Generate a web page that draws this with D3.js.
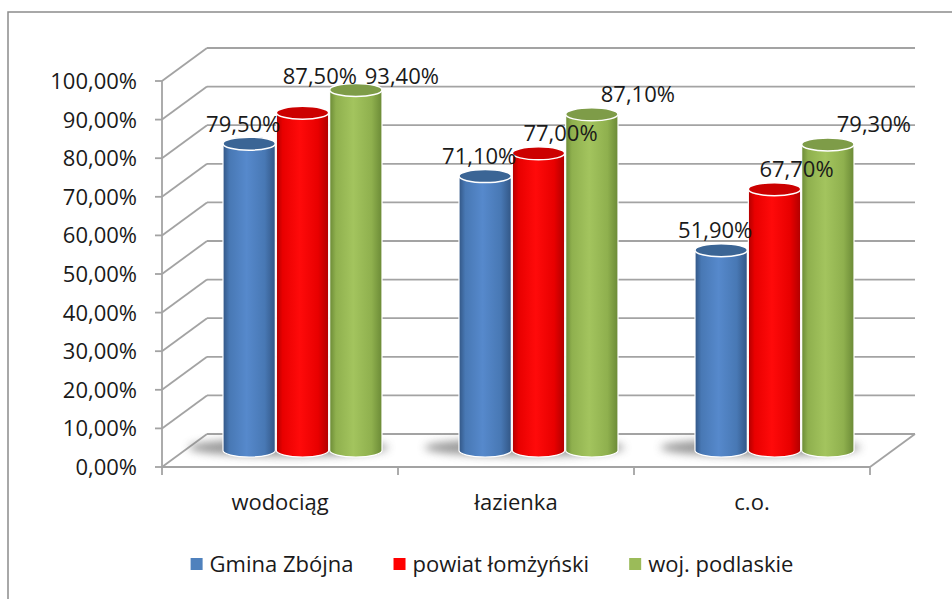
<!DOCTYPE html>
<html>
<head>
<meta charset="utf-8">
<script src="https://cdn.jsdelivr.net/npm/d3@7"></script>
<style>
  body { margin: 0; background: #fff; }
  text { font-family: "Open Sans", "Liberation Sans", sans-serif; fill: #1a1a1a; }
</style>
</head>
<body>
<script>
const categories = ["wodociąg", "łazienka", "c.o."];
const seriesNames = ["Gmina Zbójna", "powiat łomżyński", "woj. podlaskie"];
const gminaValues = [0.795, 0.711, 0.519];
const powiatValues = [0.875, 0.770, 0.677];
const wojValues = [0.934, 0.871, 0.793];
const yTicks = [0, 0.1, 0.2, 0.3, 0.4, 0.5, 0.6, 0.7, 0.8, 0.9, 1.0];

const allValues = [gminaValues, powiatValues, wojValues];

let width = 952;
let height = 599;
let svg = d3.select("body").append("svg")
            .attr("width", width)
            .attr("height", height);

// pseudo 3d: depth offset of back wall
let depthX = 45, depthY = -33;
let front = {left: 162, right: 870, bottom: 467, top: 81};
let fontSize = 22;

let pl = d3.formatLocale({decimal: ",", thousands: " ", grouping: [3], currency: ["", ""]});
let fmt = pl.format(".2%");

let x = d3.scaleBand().domain(categories).range([front.left, front.right]);
let groupW = 160;
let xs = d3.scaleBand().domain(seriesNames).range([0, groupW]);
let y = d3.scaleLinear().domain([0, 1]).range([front.bottom, front.top]);

let colors = [
  {dark: "#325685", mid: "#4878b4", light: "#5689cc", top: "#3b6595"},
  {dark: "#b00000", mid: "#e80000", light: "#ff0a0a", top: "#cc0000"},
  {dark: "#6b8a36", mid: "#8fb04e", light: "#a3c45e", top: "#7e9c48"}
];
let legendColors = ["#4f81bd", "#ff0000", "#9bbb59"];

let defs = svg.append("defs");
colors.forEach(function(c, i) {
  let g = defs.append("linearGradient").attr("id", "cyl" + i)
              .attr("x1", 0).attr("x2", 1).attr("y1", 0).attr("y2", 0);
  g.append("stop").attr("offset", 0).attr("stop-color", c.dark);
  g.append("stop").attr("offset", 0.12).attr("stop-color", c.mid);
  g.append("stop").attr("offset", 0.45).attr("stop-color", c.light);
  g.append("stop").attr("offset", 0.8).attr("stop-color", c.mid);
  g.append("stop").attr("offset", 1).attr("stop-color", c.dark);
});
defs.append("filter").attr("id", "blur")
    .attr("x", "-30%").attr("y", "-100%").attr("width", "160%").attr("height", "300%")
    .append("feGaussianBlur").attr("stdDeviation", 4);

// outer frame
svg.append("rect")
   .attr("x", 8).attr("y", 12)
   .attr("width", 980).attr("height", 620)
   .attr("fill", "none")
   .attr("stroke", "#8c8c8c")
   .attr("stroke-width", 1.5);

let lineColor = "#a3a3a3";
let grid = svg.append("g").attr("stroke", lineColor).attr("stroke-width", 1.8).attr("fill", "none");

// back wall gridlines and side wall diagonals
yTicks.forEach(function(t) {
  grid.append("line")
      .attr("x1", front.left + depthX).attr("y1", y(t) + depthY)
      .attr("x2", front.right + depthX).attr("y2", y(t) + depthY);
  grid.append("line")
      .attr("x1", front.left).attr("y1", y(t))
      .attr("x2", front.left + depthX).attr("y2", y(t) + depthY);
  grid.append("line")
      .attr("x1", front.left - 7).attr("y1", y(t))
      .attr("x2", front.left).attr("y2", y(t));
});

// floor
grid.append("line")
    .attr("x1", front.left).attr("y1", front.bottom)
    .attr("x2", front.right).attr("y2", front.bottom);
grid.append("line")
    .attr("x1", front.right).attr("y1", front.bottom)
    .attr("x2", front.right + depthX).attr("y2", front.bottom + depthY);
grid.append("line")
    .attr("x1", front.left).attr("y1", front.top)
    .attr("x2", front.left).attr("y2", front.bottom + 8);
x.domain().forEach(function(c) {
  grid.append("line")
      .attr("x1", x(c) + x.bandwidth()).attr("y1", front.bottom)
      .attr("x2", x(c) + x.bandwidth()).attr("y2", front.bottom + 8);
});

// y axis labels
svg.append("g").selectAll("text")
   .data(yTicks)
   .enter().append("text")
   .attr("x", 137)
   .attr("y", d => y(d))
   .attr("dy", "0.36em")
   .attr("text-anchor", "end")
   .attr("font-size", fontSize)
   .text(d => fmt(d));

// category labels
svg.append("g").selectAll("text")
   .data(categories)
   .enter().append("text")
   .attr("x", d => x(d) + x.bandwidth() / 2)
   .attr("y", 510)
   .attr("text-anchor", "middle")
   .attr("font-size", fontSize)
   .text(d => d);

let ry = 6.5;
let baseY = front.bottom + depthY / 2;

function groupLeft(c) {
  return x(c) + (x.bandwidth() - groupW) / 2 + depthX / 2;
}

// floor shadows
categories.forEach(function(c) {
  let gl = groupLeft(c);
  svg.append("ellipse")
     .attr("cx", gl + groupW / 2 - 14)
     .attr("cy", baseY - 3)
     .attr("rx", groupW / 2 + 20)
     .attr("ry", 9)
     .attr("fill", "#777")
     .attr("opacity", 0.75)
     .attr("filter", "url(#blur)");
});

let bars = svg.append("g");
let labels = [];
let labelShift = [-6, 22, 46];
categories.forEach(function(c, ci) {
  let gl = groupLeft(c);
  let group = [];
  seriesNames.forEach(function(s, si) {
    let v = allValues[si][ci];
    let rx = xs.bandwidth() / 2 - 0.5;
    let cx = gl + xs(s) + xs.bandwidth() / 2;
    let topY = y(v) + depthY / 2;
    let body = "M" + (cx - rx) + "," + topY +
               "L" + (cx - rx) + "," + baseY +
               "A" + rx + "," + ry + " 0 0 0 " + (cx + rx) + "," + baseY +
               "L" + (cx + rx) + "," + topY +
               "A" + rx + "," + ry + " 0 0 0 " + (cx - rx) + "," + topY + "Z";
    bars.append("path")
        .attr("d", body)
        .attr("fill", "url(#cyl" + si + ")")
        .attr("stroke", "#fff")
        .attr("stroke-width", 1.2);
    bars.append("ellipse")
        .attr("cx", cx).attr("cy", topY)
        .attr("rx", rx).attr("ry", ry)
        .attr("fill", colors[si].top)
        .attr("stroke", "#fff")
        .attr("stroke-width", 1.5);
    group.push({text: fmt(v), x: cx + labelShift[si], y: Math.max(76, topY - 20)});
  });
  // keep neighbouring labels from overlapping
  for (let i = group.length - 2; i >= 0; i--) {
    let a = group[i], b = group[i + 1];
    if (Math.abs(a.y - b.y) < 22 && b.x - a.x < 82) {
      a.y = b.y;
      a.x = b.x - 82;
    }
  }
  labels = labels.concat(group);
});

svg.append("g").selectAll("text")
   .data(labels)
   .enter().append("text")
   .attr("x", d => d.x)
   .attr("y", d => d.y)
   .attr("dy", "0.36em")
   .attr("text-anchor", "middle")
   .attr("font-size", fontSize)
   .text(d => d.text);

// legend
let legend = svg.append("g");
let lx = 0;
seriesNames.forEach(function(s, i) {
  let g = legend.append("g").attr("transform", "translate(" + lx + ",0)");
  g.append("rect").attr("x", 0).attr("y", -6).attr("width", 12).attr("height", 12)
   .attr("fill", legendColors[i]);
  let t = g.append("text").attr("x", 19).attr("y", 0).attr("dy", "0.36em")
           .attr("font-size", fontSize).text(s);
  lx += 19 + t.node().getComputedTextLength() + 40;
});
let legendW = lx - 40;
legend.attr("transform", "translate(" + (492 - legendW / 2) + ",564)");
</script>
</body>
</html>
